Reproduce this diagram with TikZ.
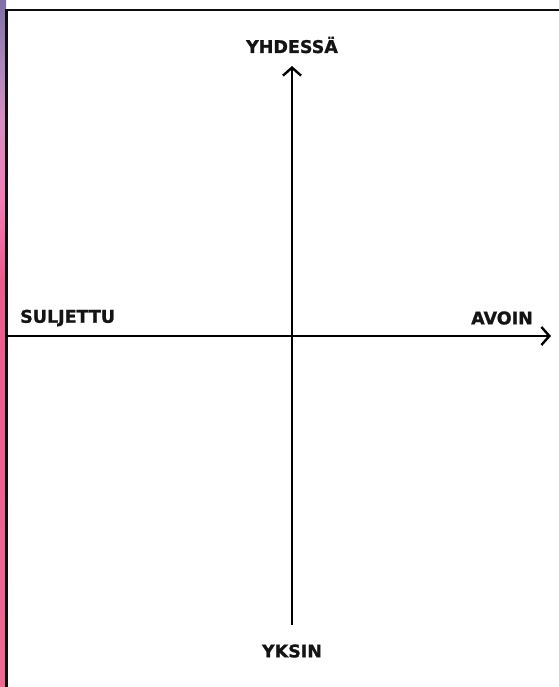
\documentclass[tikz,border=0pt]{standalone}
\usepackage{fontspec}
\setmainfont{DejaVu Sans}
\newfontfamily\lblfont{DejaVu Sans Bold}[FakeBold=1.2]
\usetikzlibrary{arrows.meta}
\definecolor{sA}{HTML}{7E6FA6}
\definecolor{sB}{HTML}{A886BA}
\definecolor{sC}{HTML}{D88EC2}
\definecolor{sD}{HTML}{F47CB6}
\definecolor{sE}{HTML}{EC5A8C}
\definecolor{sF}{HTML}{F06892}
\tikzset{
  axis/.style={line width=2.4pt, draw=black, -{Straight Barb[length=8pt,width=18pt,line width=2.4pt]}},
  lbl/.style={font=\lblfont\fontsize{17.5}{17.5}\selectfont, inner sep=0pt, text=black!92}
}
\begin{document}
\begin{tikzpicture}[x=1pt,y=1pt]
\useasboundingbox (0,0) rectangle (558,-687);
\fill[white] (0,0) rectangle (558,-687);
\shade[top color=sA, bottom color=sB] (0,0) rectangle (6,-60);
\shade[top color=sB, bottom color=sC] (0,-60) rectangle (6,-120);
\shade[top color=sC, bottom color=sD] (0,-120) rectangle (6,-200);
\shade[top color=sD, bottom color=sE] (0,-200) rectangle (6,-280);
\shade[top color=sE, bottom color=sF] (0,-280) rectangle (6,-687);
\coordinate (fb) at (6.5,-687);
\coordinate (fc) at (6.5,-10);
\coordinate (fr) at (558,-10);
\draw[line width=2.8pt, line cap=rect, draw=black!95] (fb) -- (fc) -- (fr);
\coordinate (vb) at (292,-625);
\coordinate (vt) at (292,-66);
\coordinate (hl) at (6,-336);
\coordinate (hr) at (551,-336);
\draw[axis] (vb) -- (vt);
\draw[axis] (hl) -- (hr);
\node[lbl] (top) at (292,-45) {YHDESSÄ};
\node[lbl] (bot) at (292,-651) {YKSIN};
\node[lbl, anchor=west] (left) at (20,-318) {SULJETTU};
\node[lbl, anchor=east] (right) at (533,-318) {AVOIN};
\end{tikzpicture}
\end{document}
